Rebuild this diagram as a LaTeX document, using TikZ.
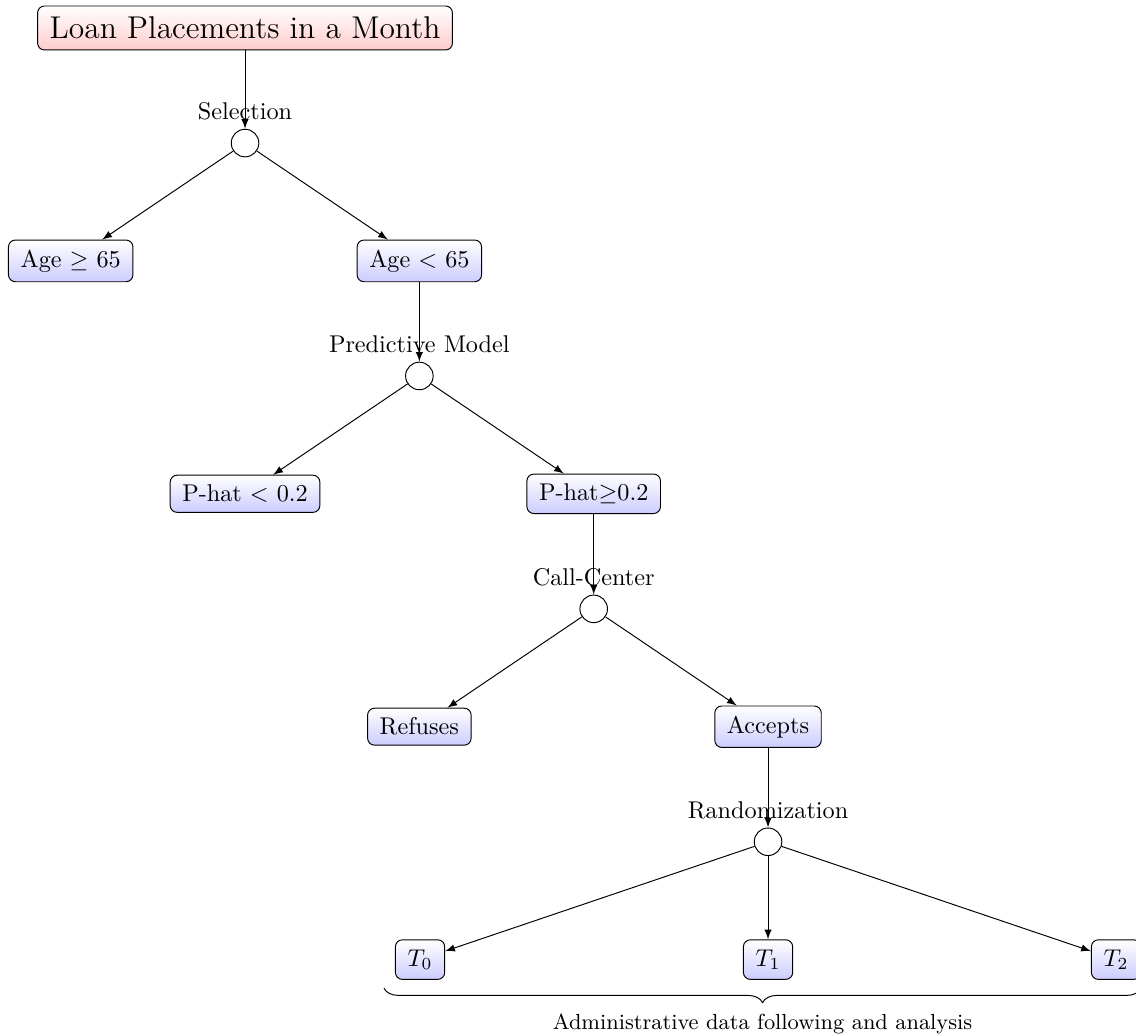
\documentclass[tikz,border=0pt]{standalone}
\usepackage{tikz}
\usetikzlibrary{arrows, positioning, calc, graphs, decorations.pathreplacing}
\tikzset{
node distance=17.1mm and 25.3mm,
on grid,
>=latex,
box/.style={%
    rectangle,
    inner xsep=5pt,
    inner ysep=4pt,
	rounded corners=1mm,
    draw=black,
    top color=white,
    bottom color=blue!20,
},
rootbox/.style={%
    box,
    inner ysep=4.5pt,
    bottom color=red!20,
    font=\fontsize{13}{15}\selectfont,
},
split/.style={%
    circle,inner sep=0pt,minimum size=4mm,draw=black,fill=white
},
}
\usepackage{amsmath, amssymb}

\begin{document}
\begin{tikzpicture}
	\useasboundingbox (-3.556,0.406) rectangle (12.93,-14.586);
	\node[rootbox] (loan) {Loan Placements in a Month};
	\node[split, below=16.7mm of loan, label=above:Selection] (sel) {};
	\node[box, below left=of sel] (old) {Age $\geq$ 65};
	\node[box, below right=of sel] (young) {Age $<$ 65};
	\node[split, below=16.7mm of young, label=above:Predictive Model] (model) {};
	\node[box, below left=of model] (low) {P-hat $<$ 0.2};
	\node[box, below right=of model] (high) {P-hat$\geq$0.2};
	\node[split, below=16.7mm of high, label=above:Call-Center] (call) {};
	\node[box, below left=of call] (refuse) {Refuses};
	\node[box, below right=of call] (accept) {Accepts};
	\node[split, below=16.7mm of accept, label=above:Randomization] (rand) {};
	\node[box, below=of rand] (t1) {$T_1$};
	\node[box, left=50.5mm of t1] (t0) {$T_0$};
	\node[box, right=50.5mm of t1] (t2) {$T_2$};

	\coordinate (bl) at ($(t0.south west)+(-0.16,-0.12)$);
	\coordinate (br) at ($(t2.south east)+(0,-0.12)$);

\graph [use existing nodes] {
loan -> sel -> {old, young};
young -> model -> {low, high};
high -> call -> {refuse, accept};
accept -> rand -> {t0, t1, t2};
};

	\draw[decorate, decoration={brace, mirror, amplitude=6pt}] (bl) -- (br)
		node[midway, below=7pt, font=\small] (admin) {Administrative data following and analysis};

\end{tikzpicture}
\end{document}
